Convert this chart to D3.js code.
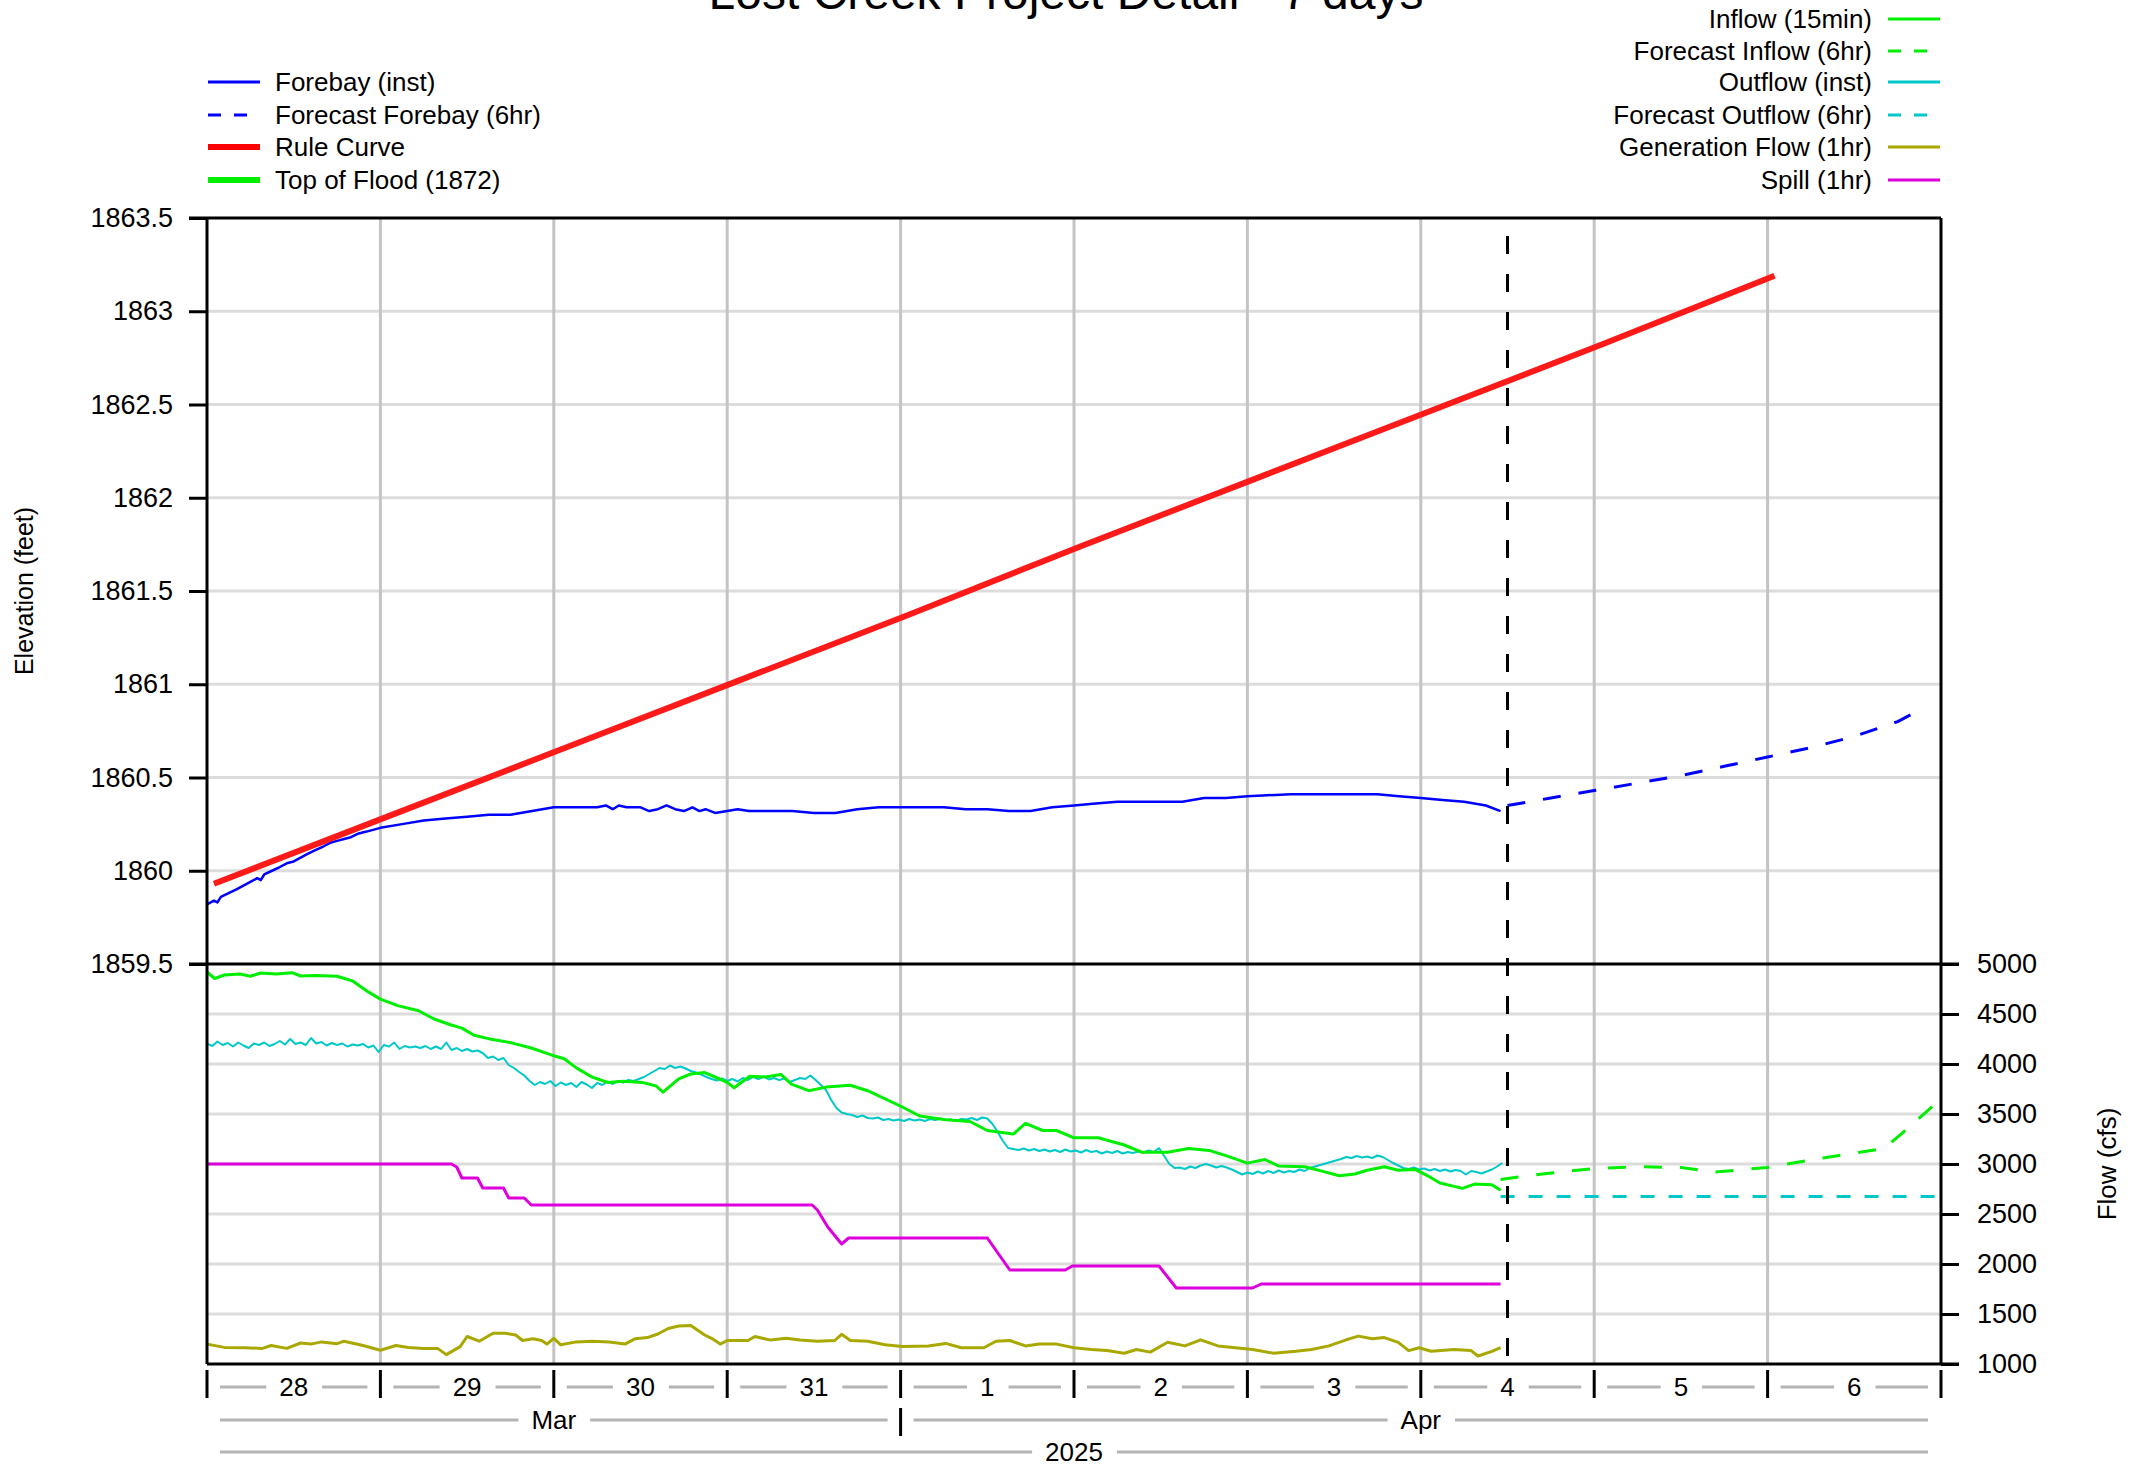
<!DOCTYPE html>
<html>
<head>
<meta charset="utf-8">
<script src="https://cdn.jsdelivr.net/npm/d3@7"></script>
<style>
  body { margin: 0; background: #fff; }
  text { font-family: "Liberation Sans", Arial, sans-serif; fill: #000; }
</style>
</head>
<body>
<svg id="chart" width="2138" height="1467"></svg>
<script>
// all times are day offsets from 2025-03-28 00:00
const startDate = Date.UTC(2025, 2, 28);
const nowDay = 7.5;

const elevTicks = [1859.5, 1860, 1860.5, 1861, 1861.5, 1862, 1862.5, 1863, 1863.5];
const flowTicks = [1000, 1500, 2000, 2500, 3000, 3500, 4000, 4500, 5000];
const dayLabels = ["28", "29", "30", "31", "1", "2", "3", "4", "5", "6"];
const monthLabels = [["Mar", 0, 4], ["Apr", 4, 10]];
const yearLabels = [["2025", 0, 10]];

const ruleCurve = [[0.04, 1859.93], [1.04, 1860.29], [2.04, 1860.65], [3.04, 1861.01], [4.04, 1861.37],
  [5.04, 1861.74], [6.04, 1862.10], [7.04, 1862.46], [8.04, 1862.82], [9.04, 1863.19]];

const forebay = [[0, 1859.82], [0.04, 1859.84], [0.06, 1859.83], [0.08, 1859.86], [0.125, 1859.88], [0.17, 1859.9],
  [0.21, 1859.92], [0.25, 1859.94], [0.29, 1859.96], [0.31, 1859.95], [0.33, 1859.98], [0.375, 1860.0],
  [0.42, 1860.02], [0.46, 1860.04], [0.5, 1860.05], [0.54, 1860.07], [0.58, 1860.09], [0.625, 1860.11],
  [0.67, 1860.13], [0.71, 1860.15], [0.75, 1860.16], [0.79, 1860.17], [0.83, 1860.18], [0.875, 1860.2],
  [0.92, 1860.21], [1.0, 1860.23], [1.125, 1860.25], [1.25, 1860.27], [1.375, 1860.28], [1.5, 1860.29],
  [1.625, 1860.3], [1.75, 1860.3], [1.875, 1860.32], [2.0, 1860.34], [2.125, 1860.34], [2.25, 1860.34],
  [2.3, 1860.35], [2.34, 1860.33], [2.375, 1860.35], [2.42, 1860.34], [2.5, 1860.34], [2.55, 1860.32],
  [2.6, 1860.33], [2.65, 1860.35], [2.7, 1860.33], [2.75, 1860.32], [2.8, 1860.34], [2.84, 1860.32],
  [2.875, 1860.33], [2.93, 1860.31], [3.0, 1860.32], [3.06, 1860.33], [3.125, 1860.32], [3.25, 1860.32],
  [3.375, 1860.32], [3.5, 1860.31], [3.625, 1860.31], [3.75, 1860.33], [3.875, 1860.34], [4.0, 1860.34],
  [4.25, 1860.34], [4.375, 1860.33], [4.5, 1860.33], [4.625, 1860.32], [4.75, 1860.32], [4.875, 1860.34],
  [5.0, 1860.35], [5.125, 1860.36], [5.25, 1860.37], [5.625, 1860.37], [5.75, 1860.39], [5.875, 1860.39],
  [6.0, 1860.4], [6.25, 1860.41], [6.75, 1860.41], [6.875, 1860.4], [7.0, 1860.39], [7.125, 1860.38],
  [7.25, 1860.37], [7.375, 1860.35], [7.46, 1860.32]];

const forecastForebay = [[7.5, 1860.35], [7.75, 1860.39], [8.0, 1860.43], [8.25, 1860.47], [8.5, 1860.51],
  [8.75, 1860.56], [9.0, 1860.61], [9.25, 1860.66], [9.5, 1860.72], [9.75, 1860.8], [9.875, 1860.86]];

const inflow = [[0, 4920], [0.044, 4855], [0.1, 4890], [0.19, 4900], [0.25, 4877], [0.31, 4910], [0.4, 4899],
  [0.49, 4913], [0.54, 4880], [0.63, 4884], [0.75, 4877], [0.84, 4830], [0.93, 4721], [1.0, 4649],
  [1.1, 4584], [1.22, 4533], [1.31, 4450], [1.4, 4395], [1.47, 4359], [1.54, 4287], [1.63, 4251],
  [1.75, 4214], [1.87, 4160], [1.99, 4088], [2.06, 4052], [2.13, 3961], [2.22, 3870], [2.31, 3816],
  [2.4, 3827], [2.51, 3816], [2.59, 3780], [2.63, 3718], [2.72, 3852], [2.79, 3900], [2.87, 3914],
  [2.93, 3870], [3.0, 3816], [3.04, 3762], [3.13, 3878], [3.22, 3870], [3.31, 3896], [3.37, 3798],
  [3.47, 3733], [3.57, 3769], [3.71, 3787], [3.81, 3733], [4.01, 3570], [4.11, 3480], [4.26, 3443],
  [4.4, 3425], [4.5, 3335], [4.65, 3299], [4.72, 3407], [4.82, 3335], [4.9, 3335], [5.0, 3262],
  [5.14, 3262], [5.29, 3190], [5.39, 3118], [5.54, 3118], [5.66, 3154], [5.78, 3136], [5.88, 3081],
  [6.0, 3009], [6.1, 3045], [6.18, 2980], [6.33, 2973], [6.43, 2929], [6.53, 2882], [6.62, 2900],
  [6.69, 2937], [6.79, 2973], [6.87, 2937], [6.97, 2944], [7.04, 2882], [7.11, 2810], [7.24, 2756],
  [7.31, 2799], [7.41, 2792], [7.46, 2738]];

const forecastInflow = [[7.46, 2846], [7.7, 2900], [8.0, 2955], [8.25, 2973], [8.5, 2965], [8.7, 2919],
  [9.0, 2966], [9.33, 3063], [9.67, 3154], [9.77, 3299], [9.97, 3606]];

const outflow = [[0, 4204], [0.03, 4180], [0.06, 4225], [0.09, 4190], [0.12, 4210], [0.15, 4175], [0.18, 4215],
  [0.21, 4185], [0.24, 4160], [0.27, 4205], [0.3, 4190], [0.33, 4215], [0.36, 4180], [0.39, 4200],
  [0.42, 4230], [0.45, 4195], [0.48, 4250], [0.51, 4200], [0.54, 4215], [0.57, 4190], [0.6, 4260],
  [0.63, 4205], [0.66, 4220], [0.69, 4185], [0.72, 4210], [0.75, 4190], [0.78, 4205], [0.81, 4175],
  [0.84, 4195], [0.87, 4185], [0.9, 4200], [0.93, 4165], [0.96, 4185], [0.99, 4120], [1.02, 4190],
  [1.05, 4175], [1.08, 4215], [1.11, 4150], [1.14, 4180], [1.17, 4165], [1.2, 4175], [1.23, 4160],
  [1.26, 4180], [1.29, 4150], [1.32, 4175], [1.35, 4150], [1.38, 4215], [1.41, 4140], [1.44, 4160],
  [1.47, 4130], [1.5, 4150], [1.53, 4125], [1.56, 4135], [1.59, 4110], [1.62, 4060], [1.65, 4075],
  [1.68, 4040], [1.71, 4060], [1.74, 3990], [1.77, 3960], [1.8, 3920], [1.83, 3885], [1.86, 3830],
  [1.89, 3790], [1.92, 3820], [1.95, 3800], [1.98, 3830], [2.01, 3780], [2.04, 3815], [2.07, 3790],
  [2.1, 3810], [2.13, 3770], [2.16, 3820], [2.19, 3795], [2.22, 3760], [2.25, 3810], [2.28, 3790],
  [2.31, 3825], [2.34, 3800], [2.37, 3830], [2.4, 3815], [2.43, 3840], [2.46, 3830], [2.49, 3850],
  [2.52, 3870], [2.55, 3900], [2.58, 3930], [2.61, 3960], [2.64, 3950], [2.67, 3985], [2.7, 3960],
  [2.73, 3975], [2.76, 3955], [2.79, 3930], [2.82, 3915], [2.85, 3895], [2.88, 3870], [2.91, 3850],
  [2.94, 3835], [2.97, 3855], [3.0, 3830], [3.03, 3850], [3.06, 3825], [3.09, 3860], [3.12, 3840],
  [3.15, 3870], [3.18, 3850], [3.21, 3875], [3.24, 3845], [3.27, 3860], [3.3, 3840], [3.33, 3855],
  [3.36, 3820], [3.39, 3840], [3.42, 3860], [3.45, 3850], [3.48, 3885], [3.51, 3840], [3.54, 3790],
  [3.57, 3740], [3.6, 3640], [3.63, 3560], [3.66, 3515], [3.69, 3500], [3.72, 3490], [3.75, 3470],
  [3.78, 3485], [3.81, 3460], [3.84, 3455], [3.87, 3465], [3.9, 3440], [3.93, 3450], [3.96, 3435],
  [3.99, 3445], [4.02, 3430], [4.05, 3450], [4.08, 3435], [4.11, 3445], [4.14, 3430], [4.17, 3450],
  [4.2, 3440], [4.23, 3455], [4.26, 3440], [4.29, 3445], [4.32, 3430], [4.35, 3450], [4.38, 3445],
  [4.41, 3460], [4.44, 3440], [4.47, 3465], [4.5, 3455], [4.53, 3400], [4.56, 3320], [4.59, 3230],
  [4.62, 3160], [4.65, 3150], [4.68, 3140], [4.71, 3155], [4.74, 3135], [4.77, 3150], [4.8, 3130],
  [4.83, 3145], [4.86, 3125], [4.89, 3140], [4.92, 3120], [4.95, 3145], [4.98, 3125], [5.01, 3135],
  [5.04, 3115], [5.07, 3140], [5.1, 3120], [5.13, 3130], [5.16, 3105], [5.19, 3125], [5.22, 3110],
  [5.25, 3130], [5.28, 3105], [5.31, 3120], [5.34, 3110], [5.37, 3125], [5.4, 3115], [5.43, 3135],
  [5.46, 3120], [5.49, 3160], [5.52, 3080], [5.55, 3000], [5.58, 2960], [5.61, 2965], [5.64, 2950],
  [5.67, 2975], [5.7, 2960], [5.73, 2985], [5.76, 3000], [5.79, 2985], [5.82, 2965], [5.85, 2980],
  [5.88, 2965], [5.91, 2945], [5.94, 2920], [5.97, 2895], [6.0, 2915], [6.03, 2900], [6.06, 2925],
  [6.09, 2905], [6.12, 2930], [6.15, 2910], [6.18, 2935], [6.21, 2915], [6.24, 2930], [6.27, 2920],
  [6.3, 2945], [6.33, 2930], [6.36, 2960], [6.39, 2975], [6.42, 2990], [6.45, 3005], [6.48, 3020],
  [6.51, 3035], [6.54, 3050], [6.57, 3070], [6.6, 3060], [6.63, 3080], [6.66, 3065], [6.69, 3075],
  [6.72, 3060], [6.75, 3085], [6.78, 3070], [6.81, 3040], [6.84, 3010], [6.87, 2985], [6.9, 2960],
  [6.93, 2950], [6.96, 2965], [6.99, 2945], [7.02, 2955], [7.05, 2935], [7.08, 2950], [7.11, 2930],
  [7.14, 2945], [7.17, 2925], [7.2, 2940], [7.23, 2930], [7.26, 2895], [7.29, 2930], [7.32, 2920],
  [7.35, 2905], [7.38, 2925], [7.41, 2945], [7.44, 2975], [7.47, 3010]];

const forecastOutflow = [[7.46, 2676], [9.98, 2676]];

const spill = [[0, 3000], [1.41, 3000], [1.44, 2970], [1.47, 2860], [1.56, 2860], [1.59, 2760], [1.71, 2760],
  [1.74, 2660], [1.83, 2660], [1.87, 2590], [3.49, 2590], [3.52, 2540], [3.58, 2370], [3.66, 2200],
  [3.7, 2260], [4.5, 2260], [4.63, 1940], [4.95, 1940], [4.99, 1980], [5.49, 1980], [5.59, 1760],
  [6.03, 1760], [6.08, 1800], [7.46, 1800]];

const generation = [[0, 1199], [0.1, 1166], [0.22, 1163], [0.32, 1156], [0.37, 1185], [0.46, 1156],
  [0.54, 1210], [0.6, 1199], [0.66, 1221], [0.75, 1203], [0.79, 1228], [0.9, 1185], [1.0, 1138],
  [1.09, 1185], [1.16, 1166], [1.25, 1156], [1.33, 1156], [1.38, 1094], [1.46, 1174], [1.5, 1275],
  [1.57, 1228], [1.65, 1308], [1.72, 1308], [1.78, 1290], [1.82, 1235], [1.88, 1253], [1.93, 1235],
  [1.96, 1199], [2.0, 1257], [2.04, 1192], [2.13, 1221], [2.22, 1228], [2.32, 1221], [2.41, 1199],
  [2.47, 1253], [2.54, 1264], [2.6, 1300], [2.66, 1355], [2.72, 1380], [2.79, 1384], [2.87, 1290],
  [2.91, 1257], [2.96, 1199], [3.0, 1235], [3.12, 1235], [3.16, 1275], [3.25, 1239], [3.34, 1257],
  [3.42, 1240], [3.52, 1228], [3.62, 1235], [3.66, 1297], [3.71, 1235], [3.81, 1228], [3.91, 1192],
  [4.01, 1174], [4.16, 1181], [4.26, 1206], [4.35, 1163], [4.48, 1163], [4.55, 1228], [4.63, 1235],
  [4.72, 1181], [4.8, 1199], [4.9, 1199], [5.0, 1163], [5.1, 1145], [5.19, 1134], [5.29, 1108],
  [5.36, 1145], [5.44, 1119], [5.54, 1217], [5.64, 1181], [5.73, 1242], [5.83, 1181], [5.93, 1163],
  [6.03, 1145], [6.15, 1108], [6.28, 1127], [6.37, 1145], [6.47, 1181], [6.57, 1242], [6.64, 1279],
  [6.72, 1253], [6.79, 1264], [6.87, 1217], [6.93, 1134], [6.99, 1163], [7.06, 1127], [7.19, 1145],
  [7.29, 1134], [7.33, 1080], [7.41, 1127], [7.46, 1163]];

const leftLegend = [
  { name: "Forebay (inst)", color: "#0000ff", width: 3, dash: null },
  { name: "Forecast Forebay (6hr)", color: "#0000ff", width: 3, dash: "13,13" },
  { name: "Rule Curve", color: "#ff0000", width: 6, dash: null },
  { name: "Top of Flood (1872)", color: "#00ee00", width: 6, dash: null }
];
const rightLegend = [
  { name: "Inflow (15min)", color: "#00ee00", width: 3, dash: null },
  { name: "Forecast Inflow (6hr)", color: "#00ee00", width: 3, dash: "13,13" },
  { name: "Outflow (inst)", color: "#00c8c8", width: 3, dash: null },
  { name: "Forecast Outflow (6hr)", color: "#00c8c8", width: 3, dash: "13,13" },
  { name: "Generation Flow (1hr)", color: "#a8a800", width: 3, dash: null },
  { name: "Spill (1hr)", color: "#dd00dd", width: 3, dash: null }
];

const svg = d3.select("#chart");
const pLeft = 207, pRight = 1941, pTop = 218, pMid = 964, pBottom = 1364;
const toDate = d => new Date(startDate + d * 86400000);

const x = d3.scaleUtc().domain([toDate(0), toDate(10)]).range([pLeft, pRight]);
const yElev = d3.scaleLinear().domain([1859.5, 1863.5]).range([pMid, pTop]);
const yFlow = d3.scaleLinear().domain([1000, 5000]).range([pBottom, pMid]);

// grid
const grid = svg.append("g");
grid.selectAll(".hgE").data(elevTicks.slice(1, -1)).enter().append("line")
  .attr("x1", pLeft).attr("x2", pRight).attr("y1", d => yElev(d)).attr("y2", d => yElev(d))
  .attr("stroke", "#dcdcdc").attr("stroke-width", 3);
grid.selectAll(".hgF").data(flowTicks.slice(1, -1)).enter().append("line")
  .attr("x1", pLeft).attr("x2", pRight).attr("y1", d => yFlow(d)).attr("y2", d => yFlow(d))
  .attr("stroke", "#dcdcdc").attr("stroke-width", 3);
grid.selectAll(".vg").data(d3.range(1, 10)).enter().append("line")
  .attr("x1", d => x(toDate(d))).attr("x2", d => x(toDate(d))).attr("y1", pTop).attr("y2", pBottom)
  .attr("stroke", "#c4c4c4").attr("stroke-width", 3);

// series
function drawLine(data, yScale, color, width, dash) {
  const line = d3.line().x(d => x(toDate(d[0]))).y(d => yScale(d[1]));
  svg.append("path").datum(data).attr("d", line)
    .attr("fill", "none").attr("stroke", color).attr("stroke-width", width)
    .attr("stroke-linejoin", "round")
    .attr("stroke-dasharray", dash);
}

drawLine(generation, yFlow, "#a8a800", 3, null);
drawLine(spill, yFlow, "#dd00dd", 3, null);
drawLine(outflow, yFlow, "#00c8c8", 2, null);
drawLine(inflow, yFlow, "#00ee00", 3, null);
drawLine(forecastOutflow, yFlow, "#00c8c8", 3, "14,14");
drawLine(forecastInflow, yFlow, "#00ee00", 3, "18,18");
drawLine(forebay, yElev, "#0000ff", 2.5, null);
drawLine(forecastForebay, yElev, "#0000ff", 3, "18,18");
drawLine(ruleCurve, yElev, "#ff1a1a", 6, null);

// now marker
svg.append("line")
  .attr("x1", x(toDate(nowDay))).attr("x2", x(toDate(nowDay)))
  .attr("y1", pTop + 18).attr("y2", pBottom)
  .attr("stroke", "#000").attr("stroke-width", 3).attr("stroke-dasharray", "18,20");

// frame
const frame = svg.append("g").attr("stroke", "#000").attr("stroke-width", 3);
frame.append("line").attr("x1", pLeft - 18).attr("x2", pRight).attr("y1", pTop).attr("y2", pTop);
frame.append("line").attr("x1", pLeft - 18).attr("x2", pRight + 18).attr("y1", pMid).attr("y2", pMid);
frame.append("line").attr("x1", pLeft).attr("x2", pRight + 18).attr("y1", pBottom).attr("y2", pBottom);
frame.append("line").attr("x1", pLeft).attr("x2", pLeft).attr("y1", pTop).attr("y2", pBottom);
frame.append("line").attr("x1", pRight).attr("x2", pRight).attr("y1", pTop).attr("y2", pBottom);

// y axes
const axElev = svg.append("g").attr("transform", `translate(${pLeft},0)`)
  .call(d3.axisLeft(yElev).tickValues(elevTicks).tickSize(18).tickPadding(16).tickFormat(d3.format("")));
const axFlow = svg.append("g").attr("transform", `translate(${pRight},0)`)
  .call(d3.axisRight(yFlow).tickValues(flowTicks).tickSize(18).tickPadding(18).tickFormat(d3.format("")));
[axElev, axFlow].forEach(a => {
  a.select(".domain").remove();
  a.selectAll(".tick line").attr("stroke", "#000").attr("stroke-width", 3);
  a.selectAll(".tick text").attr("font-size", 27).attr("font-family", "Liberation Sans, Arial, sans-serif");
});

svg.append("text").attr("transform", `translate(33,${(pTop + pMid) / 2}) rotate(-90)`)
  .attr("text-anchor", "middle").attr("font-size", 25).text("Elevation (feet)");
svg.append("text").attr("transform", `translate(2116,${(pMid + pBottom) / 2}) rotate(-90)`)
  .attr("text-anchor", "middle").attr("font-size", 26).text("Flow (cfs)");

// x axis rows
const xr = svg.append("g");
function labelRow(items, y) {
  items.forEach(([label, d0, d1]) => {
    const x0 = x(toDate(d0)), x1 = x(toDate(d1)), cx = (x0 + x1) / 2;
    const t = xr.append("text").attr("x", cx).attr("y", y).attr("text-anchor", "middle")
      .attr("dominant-baseline", "central").attr("font-size", 26).text(label);
    const w = t.node().getComputedTextLength();
    xr.append("line").attr("x1", x0 + 13).attr("x2", cx - w / 2 - 13).attr("y1", y).attr("y2", y)
      .attr("stroke", "#b4b4b4").attr("stroke-width", 3);
    xr.append("line").attr("x1", cx + w / 2 + 14).attr("x2", x1 - 13).attr("y1", y).attr("y2", y)
      .attr("stroke", "#b4b4b4").attr("stroke-width", 3);
  });
}
labelRow(dayLabels.map((l, i) => [l, i, i + 1]), 1387);
labelRow(monthLabels, 1420);
labelRow(yearLabels, 1452);
xr.selectAll(".dt").data(d3.range(0, 11)).enter().append("line")
  .attr("x1", d => x(toDate(d))).attr("x2", d => x(toDate(d))).attr("y1", 1370).attr("y2", 1398)
  .attr("stroke", "#000").attr("stroke-width", 3);
xr.append("line").attr("x1", x(toDate(4))).attr("x2", x(toDate(4))).attr("y1", 1408).attr("y2", 1436)
  .attr("stroke", "#000").attr("stroke-width", 3);

// title (the source image crops it at the top edge)
svg.append("text").attr("x", 1066).attr("y", 9).attr("text-anchor", "middle")
  .attr("font-size", 48).text("Lost Creek Project Detail - 7 days");

// legends
const rowsL = [82, 115, 147, 180];
leftLegend.forEach((s, i) => {
  svg.append("line").attr("x1", 208).attr("x2", 260).attr("y1", rowsL[i]).attr("y2", rowsL[i])
    .attr("stroke", s.color).attr("stroke-width", s.width).attr("stroke-dasharray", s.dash);
  svg.append("text").attr("x", 275).attr("y", rowsL[i]).attr("dominant-baseline", "central")
    .attr("font-size", 26).text(s.name);
});
const rowsR = [19, 51, 82, 115, 147, 180];
rightLegend.forEach((s, i) => {
  svg.append("line").attr("x1", 1888).attr("x2", 1940).attr("y1", rowsR[i]).attr("y2", rowsR[i])
    .attr("stroke", s.color).attr("stroke-width", s.width).attr("stroke-dasharray", s.dash);
  svg.append("text").attr("x", 1872).attr("y", rowsR[i]).attr("text-anchor", "end")
    .attr("dominant-baseline", "central").attr("font-size", 26).text(s.name);
});
</script>
</body>
</html>
